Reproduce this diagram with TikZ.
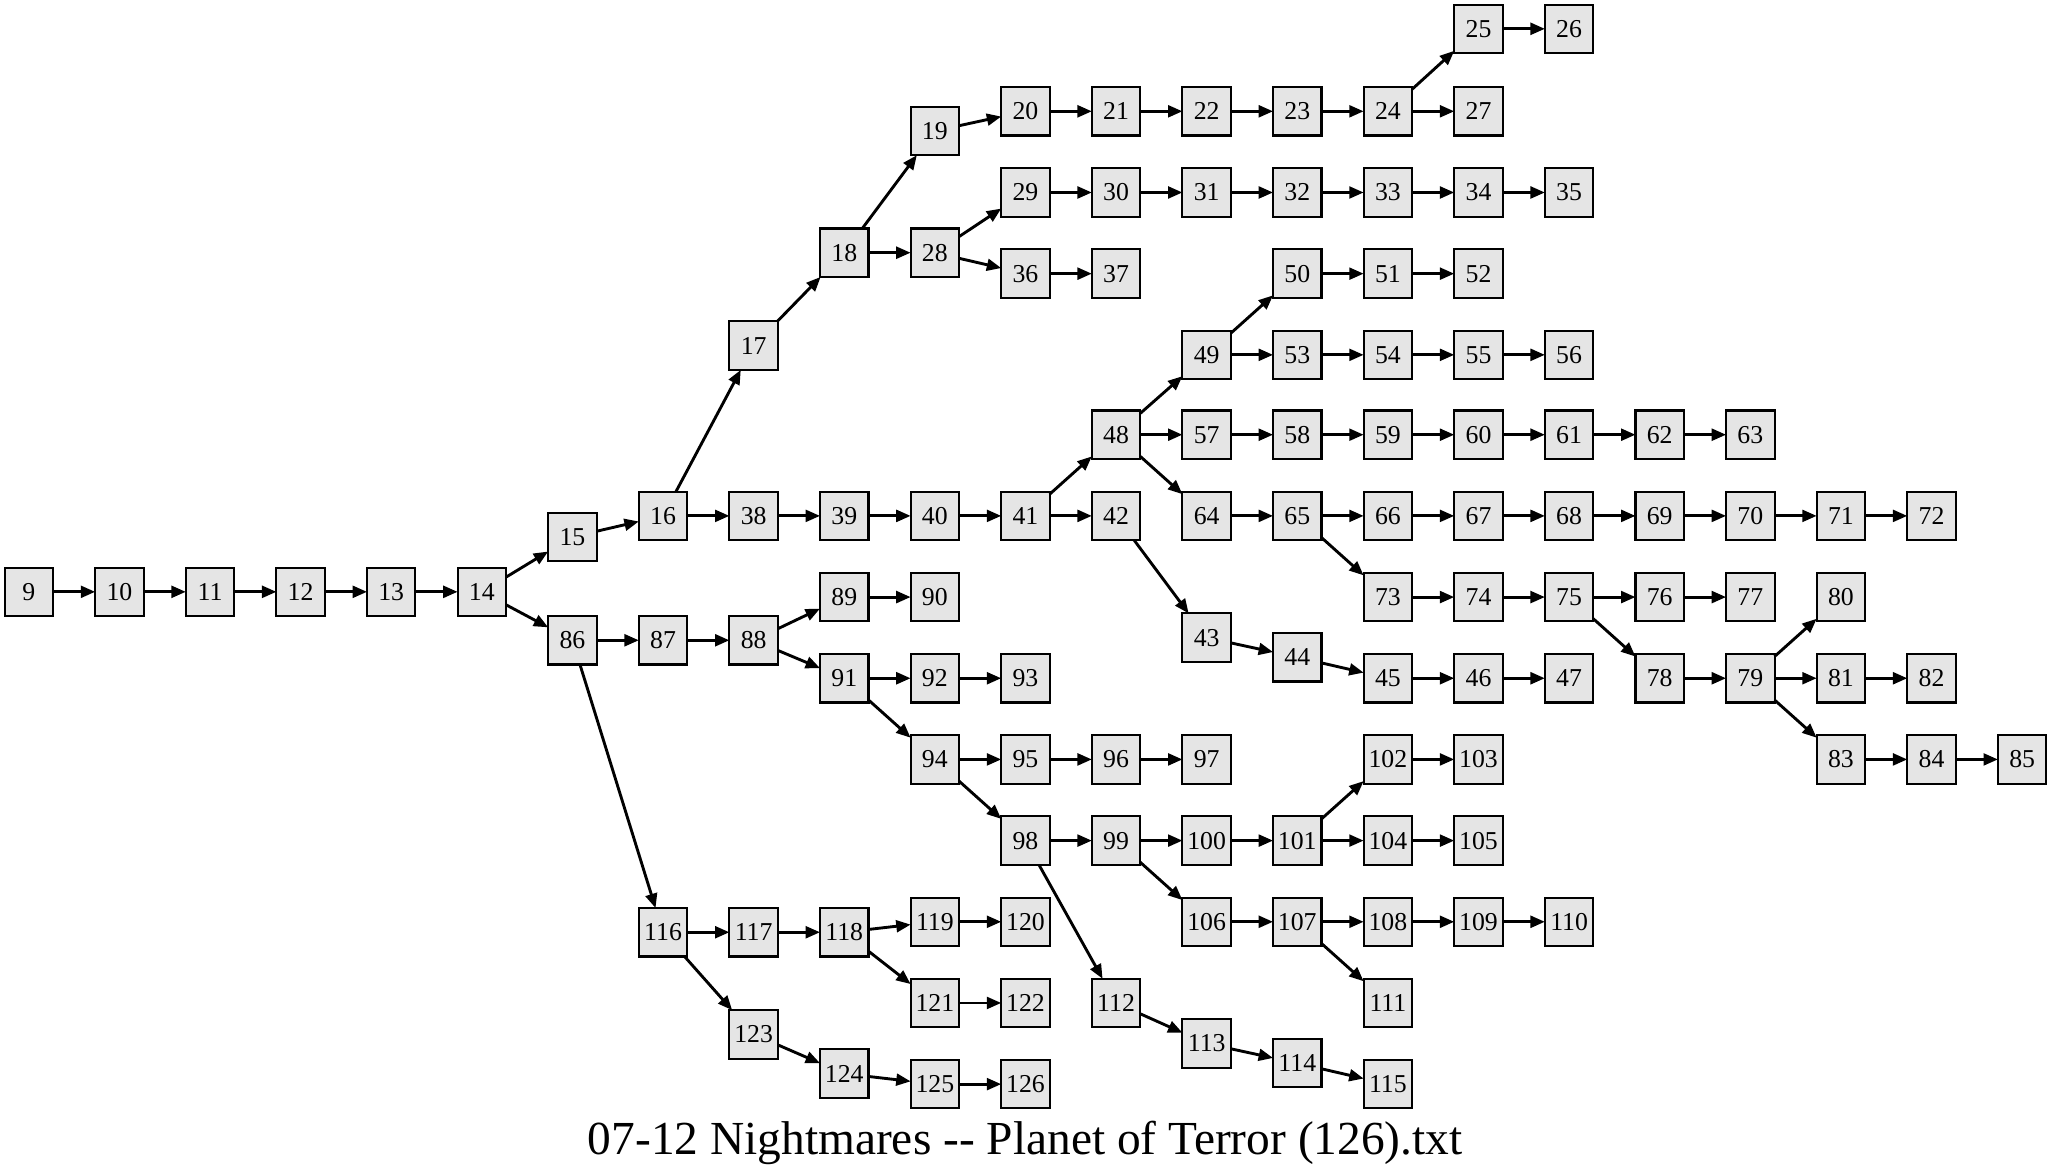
\documentclass[tikz,border=0pt]{standalone}
\usepackage{fontspec}
\setmainfont{Liberation Serif}
\usetikzlibrary{arrows.meta,positioning}
\definecolor{boxfill}{RGB}{229,229,229}

\begin{document}
\begin{tikzpicture}[
      node distance=6.44mm,
      box/.style={draw,line width=0.9pt,fill=boxfill,
        minimum width=7.4mm,minimum height=7.4mm,
        inner sep=0pt,outer sep=0pt,font=\fontsize{11.2}{13}\selectfont},
      arr/.style={-{Triangle[length=2.2mm,width=1.8mm]},line width=1.25pt}
    ]
      \useasboundingbox (0,0) rectangle (31.36,-17.94);

      \node[box](n9) at (0.44,-9.04){9};
      \node[box,right=of n9](n10){10};
      \node[box,right=of n10](n11){11};
      \node[box,right=of n11](n12){12};
      \node[box,right=of n12](n13){13};
      \node[box,right=of n13](n14){14};
      \node[box,right=of n14,yshift=8.4mm](n15){15};
      \node[box,right=of n15,yshift=3.2mm](n16){16};
      \node[box,right=of n16,yshift=26mm](n17){17};
      \node[box,right=of n17,yshift=14.2mm](n18){18};
      \node[box,right=of n18,yshift=18.6mm](n19){19};
      \node[box,right=of n19,yshift=3mm](n20){20};
      \node[box,right=of n20](n21){21};
      \node[box,right=of n21](n22){22};
      \node[box,right=of n22](n23){23};
      \node[box,right=of n23](n24){24};
      \node[box,right=of n24,yshift=12.6mm](n25){25};
      \node[box,right=of n25](n26){26};
      \node[box,right=of n24](n27){27};
      \node[box,right=of n18](n28){28};
      \node[box,right=of n28,yshift=9.2mm](n29){29};
      \node[box,right=of n29](n30){30};
      \node[box,right=of n30](n31){31};
      \node[box,right=of n31](n32){32};
      \node[box,right=of n32](n33){33};
      \node[box,right=of n33](n34){34};
      \node[box,right=of n34](n35){35};
      \node[box,right=of n28,yshift=-3.2mm](n36){36};
      \node[box,right=of n36](n37){37};

      \node[box,right=of n16](n38){38};
      \node[box,right=of n38](n39){39};
      \node[box,right=of n39](n40){40};
      \node[box,right=of n40](n41){41};
      \node[box,right=of n41,yshift=12.4mm](n48){48};
      \node[box,right=of n48,yshift=12.2mm](n49){49};
      \node[box,right=of n49,yshift=12.4mm](n50){50};
      \node[box,right=of n50](n51){51};
      \node[box,right=of n51](n52){52};
      \node[box,right=of n49](n53){53};
      \node[box,right=of n53](n54){54};
      \node[box,right=of n54](n55){55};
      \node[box,right=of n55](n56){56};
      \node[box,right=of n48](n57){57};
      \node[box,right=of n57](n58){58};
      \node[box,right=of n58](n59){59};
      \node[box,right=of n59](n60){60};
      \node[box,right=of n60](n61){61};
      \node[box,right=of n61](n62){62};
      \node[box,right=of n62](n63){63};
      \node[box,right=of n48,yshift=-12.4mm](n64){64};
      \node[box,right=of n64](n65){65};
      \node[box,right=of n65](n66){66};
      \node[box,right=of n66](n67){67};
      \node[box,right=of n67](n68){68};
      \node[box,right=of n68](n69){69};
      \node[box,right=of n69](n70){70};
      \node[box,right=of n70](n71){71};
      \node[box,right=of n71](n72){72};
      \node[box,right=of n65,yshift=-12.4mm](n73){73};
      \node[box,right=of n73](n74){74};
      \node[box,right=of n74](n75){75};
      \node[box,right=of n75](n76){76};
      \node[box,right=of n76](n77){77};
      \node[box,right=of n75,yshift=-12.4mm](n78){78};
      \node[box,right=of n78](n79){79};
      \node[box,right=of n79,yshift=12.4mm](n80){80};
      \node[box,right=of n79](n81){81};
      \node[box,right=of n81](n82){82};
      \node[box,right=of n79,yshift=-12.4mm](n83){83};
      \node[box,right=of n83](n84){84};
      \node[box,right=of n84](n85){85};
      \node[box,right=of n41](n42){42};
      \node[box,right=of n42,yshift=-18.6mm](n43){43};
      \node[box,right=of n43,yshift=-3mm](n44){44};
      \node[box,right=of n44,yshift=-3.2mm](n45){45};
      \node[box,right=of n45](n46){46};
      \node[box,right=of n46](n47){47};

      \node[box,right=of n14,yshift=-7.4mm](n86){86};
      \node[box,right=of n86](n87){87};
      \node[box,right=of n87](n88){88};
      \node[box,right=of n88,yshift=6.6mm](n89){89};
      \node[box,right=of n89](n90){90};
      \node[box,right=of n88,yshift=-5.8mm](n91){91};
      \node[box,right=of n91](n92){92};
      \node[box,right=of n92](n93){93};
      \node[box,right=of n91,yshift=-12.4mm](n94){94};
      \node[box,right=of n94](n95){95};
      \node[box,right=of n95](n96){96};
      \node[box,right=of n96](n97){97};
      \node[box,right=of n94,yshift=-12.4mm](n98){98};
      \node[box,right=of n98](n99){99};
      \node[box,right=of n99](n100){100};
      \node[box,right=of n100](n101){101};
      \node[box,right=of n101,yshift=12.4mm](n102){102};
      \node[box,right=of n102](n103){103};
      \node[box,right=of n101](n104){104};
      \node[box,right=of n104](n105){105};
      \node[box,right=of n99,yshift=-12.4mm](n106){106};
      \node[box,right=of n106](n107){107};
      \node[box,right=of n107](n108){108};
      \node[box,right=of n108](n109){109};
      \node[box,right=of n109](n110){110};
      \node[box,right=of n107,yshift=-12.4mm](n111){111};
      \node[box,right=of n98,yshift=-24.8mm](n112){112};
      \node[box,right=of n112,yshift=-6.2mm](n113){113};
      \node[box,right=of n113,yshift=-3mm](n114){114};
      \node[box,right=of n114,yshift=-3.2mm](n115){115};
      \node[box,right=of n86,yshift=-44.6mm](n116){116};
      \node[box,right=of n116](n117){117};
      \node[box,right=of n117](n118){118};
      \node[box,right=of n118,yshift=1.6mm](n119){119};
      \node[box,right=of n119](n120){120};
      \node[box,right=of n118,yshift=-10.8mm](n121){121};
      \node[box,right=of n121](n122){122};
      \node[box,right=of n116,yshift=-15.6mm](n123){123};
      \node[box,right=of n123,yshift=-6mm](n124){124};
      \node[box,right=of n124,yshift=-1.6mm](n125){125};
      \node[box,right=of n125](n126){126};

      \node[font=\fontsize{20.6}{24}\selectfont,anchor=base](title)
        at (15.66,-17.64){07-12 Nightmares -{}- Planet of Terror (126).txt};

      \draw[arr](n9)--(n10);
      \draw[arr](n10)--(n11);
      \draw[arr](n11)--(n12);
      \draw[arr](n12)--(n13);
      \draw[arr](n13)--(n14);
      \draw[arr](n14)--(n15);
      \draw[arr](n14)--(n86);
      \draw[arr](n15)--(n16);
      \draw[arr](n16)--(n17);
      \draw[arr](n16)--(n38);
      \draw[arr](n17)--(n18);
      \draw[arr](n18)--(n19);
      \draw[arr](n18)--(n28);
      \draw[arr](n19)--(n20);
      \draw[arr](n20)--(n21);
      \draw[arr](n21)--(n22);
      \draw[arr](n22)--(n23);
      \draw[arr](n23)--(n24);
      \draw[arr](n24)--(n25);
      \draw[arr](n24)--(n27);
      \draw[arr](n25)--(n26);
      \draw[arr](n28)--(n29);
      \draw[arr](n28)--(n36);
      \draw[arr](n29)--(n30);
      \draw[arr](n30)--(n31);
      \draw[arr](n31)--(n32);
      \draw[arr](n32)--(n33);
      \draw[arr](n33)--(n34);
      \draw[arr](n34)--(n35);
      \draw[arr](n36)--(n37);
      \draw[arr](n38)--(n39);
      \draw[arr](n39)--(n40);
      \draw[arr](n40)--(n41);
      \draw[arr](n41)--(n48);
      \draw[arr](n41)--(n42);
      \draw[arr](n42)--(n43);
      \draw[arr](n43)--(n44);
      \draw[arr](n44)--(n45);
      \draw[arr](n45)--(n46);
      \draw[arr](n46)--(n47);
      \draw[arr](n48)--(n49);
      \draw[arr](n48)--(n57);
      \draw[arr](n48)--(n64);
      \draw[arr](n49)--(n50);
      \draw[arr](n49)--(n53);
      \draw[arr](n50)--(n51);
      \draw[arr](n51)--(n52);
      \draw[arr](n53)--(n54);
      \draw[arr](n54)--(n55);
      \draw[arr](n55)--(n56);
      \draw[arr](n57)--(n58);
      \draw[arr](n58)--(n59);
      \draw[arr](n59)--(n60);
      \draw[arr](n60)--(n61);
      \draw[arr](n61)--(n62);
      \draw[arr](n62)--(n63);
      \draw[arr](n64)--(n65);
      \draw[arr](n65)--(n66);
      \draw[arr](n65)--(n73);
      \draw[arr](n66)--(n67);
      \draw[arr](n67)--(n68);
      \draw[arr](n68)--(n69);
      \draw[arr](n69)--(n70);
      \draw[arr](n70)--(n71);
      \draw[arr](n71)--(n72);
      \draw[arr](n73)--(n74);
      \draw[arr](n74)--(n75);
      \draw[arr](n75)--(n76);
      \draw[arr](n75)--(n78);
      \draw[arr](n76)--(n77);
      \draw[arr](n78)--(n79);
      \draw[arr](n79)--(n80);
      \draw[arr](n79)--(n81);
      \draw[arr](n79)--(n83);
      \draw[arr](n81)--(n82);
      \draw[arr](n83)--(n84);
      \draw[arr](n84)--(n85);
      \draw[arr](n86)--(n87);
      \draw[arr](n86)--(n116);
      \draw[arr](n87)--(n88);
      \draw[arr](n88)--(n89);
      \draw[arr](n88)--(n91);
      \draw[arr](n89)--(n90);
      \draw[arr](n91)--(n92);
      \draw[arr](n91)--(n94);
      \draw[arr](n92)--(n93);
      \draw[arr](n94)--(n95);
      \draw[arr](n94)--(n98);
      \draw[arr](n95)--(n96);
      \draw[arr](n96)--(n97);
      \draw[arr](n98)--(n99);
      \draw[arr](n98)--(n112);
      \draw[arr](n99)--(n100);
      \draw[arr](n99)--(n106);
      \draw[arr](n100)--(n101);
      \draw[arr](n101)--(n102);
      \draw[arr](n101)--(n104);
      \draw[arr](n102)--(n103);
      \draw[arr](n104)--(n105);
      \draw[arr](n106)--(n107);
      \draw[arr](n107)--(n108);
      \draw[arr](n107)--(n111);
      \draw[arr](n108)--(n109);
      \draw[arr](n109)--(n110);
      \draw[arr](n112)--(n113);
      \draw[arr](n113)--(n114);
      \draw[arr](n114)--(n115);
      \draw[arr](n116)--(n117);
      \draw[arr](n116)--(n123);
      \draw[arr](n117)--(n118);
      \draw[arr](n118)--(n119);
      \draw[arr](n118)--(n121);
      \draw[arr](n119)--(n120);
      \draw[arr](n121)--(n122);
      \draw[arr](n123)--(n124);
      \draw[arr](n124)--(n125);
      \draw[arr](n125)--(n126);
    \end{tikzpicture}
\end{document}
